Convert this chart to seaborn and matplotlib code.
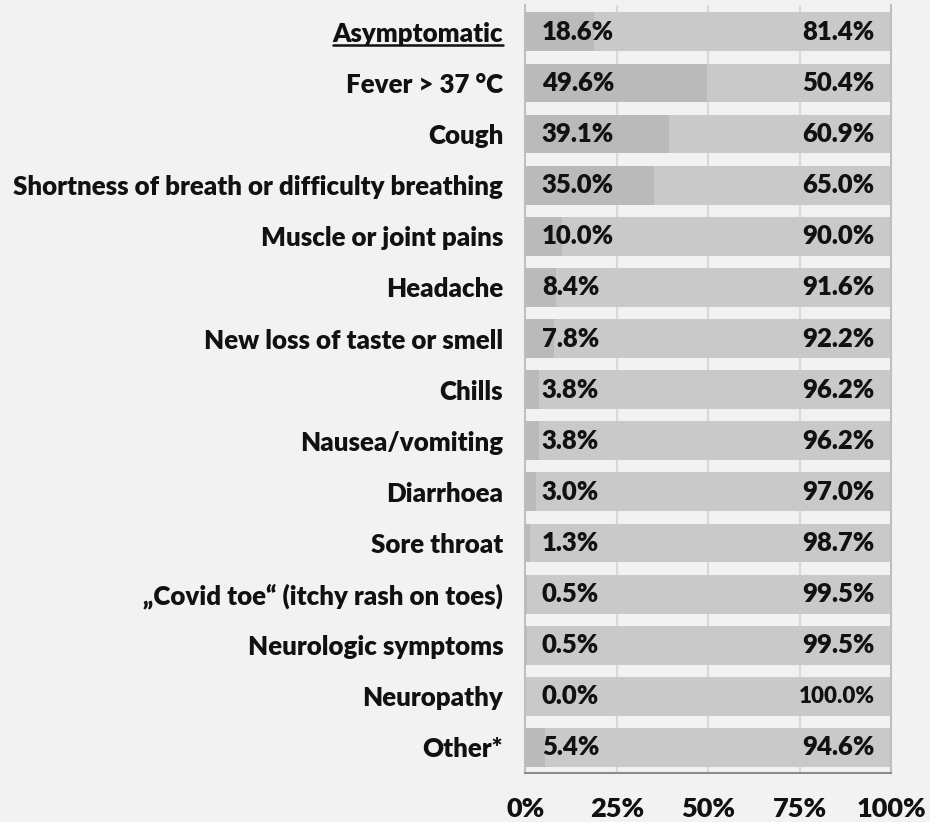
import matplotlib
matplotlib.use("Agg")
import matplotlib.pyplot as plt
import seaborn as sns
import pandas as pd

symptoms = [
    "Asymptomatic", "Fever > 37 °C", "Cough",
    "Shortness of breath or difficulty breathing", "Muscle or joint pains",
    "Headache", "New loss of taste or smell", "Chills", "Nausea/vomiting",
    "Diarrhoea", "Sore throat", "\u201eCovid toe\u201c (itchy rash on toes)",
    "Neurologic symptoms", "Neuropathy", "Other*",
]
yes_pct = [18.6, 49.6, 39.1, 35.0, 10.0, 8.4, 7.8, 3.8, 3.8, 3.0, 1.3, 0.5, 0.5, 0.0, 5.4]
no_pct = [81.4, 50.4, 60.9, 65.0, 90.0, 91.6, 92.2, 96.2, 96.2, 97.0, 98.7, 99.5, 99.5, 100.0, 94.6]
x_ticks = [0, 25, 50, 75, 100]
x_tick_labels = ["0%", "25%", "50%", "75%", "100%"]

df = pd.DataFrame({"symptom": symptoms, "yes": yes_pct, "no": no_pct})
df["total"] = df["yes"] + df["no"]

sns.set_theme(style="white")
plt.rcParams["font.family"] = ["Lato", "DejaVu Sans"]
plt.rcParams["font.weight"] = "heavy"

BG = "#f2f2f2"
INK = "#111111"
W = "heavy"
fig = plt.figure(figsize=(9.3, 8.22), dpi=100, facecolor=BG)
ax = fig.add_axes([0.565, 0.0596, 0.3935, 0.934])
ax.set_facecolor(BG)

# light vertical grid lines behind the bars
for xv in x_ticks[1:-1]:
    ax.axvline(xv, color="#d9d9d9", lw=1.5, zorder=0)

# full-width bar (yes + no) with the "yes" share drawn on top of it
sns.barplot(data=df, y="symptom", x="total", orient="h", color="#c9c9c9",
            saturation=1, width=0.76, ax=ax, zorder=2, linewidth=0)
sns.barplot(data=df, y="symptom", x="yes", orient="h", color="#bababa",
            saturation=1, width=0.76, ax=ax, zorder=3, linewidth=0)

ax.set_xlim(0, 100)
ax.set_ylim(len(symptoms) - 0.5, -0.52)
ax.set_xlabel("")
ax.set_ylabel("")

for i, (y, n) in enumerate(zip(yes_pct, no_pct)):
    ax.text(4.5, i, f"{y:.1f}%", ha="left", va="center", fontsize=18.5,
            fontweight=W, color=INK, zorder=5)
    ax.text(95.4, i, f"{n:.1f}%", ha="right", va="center",
            fontsize=16 if n >= 100 else 18.5, fontweight=W,
            color=INK, zorder=5)

ax.set_yticks(range(len(symptoms)))
ax.set_yticklabels(symptoms, fontsize=18.6, fontweight=W, color=INK)
ax.tick_params(axis="y", length=0, pad=16)

ax.set_xticks(x_ticks)
ax.set_xticklabels(x_tick_labels, fontsize=19.5, fontweight=W, color=INK)
ax.tick_params(axis="x", direction="out", length=6.5, width=1.5,
               color="#8c8c8c", pad=11)

ax.spines["top"].set_visible(False)
ax.spines["bottom"].set_color("#8c8c8c")
ax.spines["bottom"].set_linewidth(1.5)
for side in ["left", "right"]:
    ax.spines[side].set_color("#bfbfbf")
    ax.spines[side].set_linewidth(1.5)

# underline the first category label
fig.canvas.draw()
lbl = ax.get_yticklabels()[0]
bb = lbl.get_window_extent().transformed(fig.transFigure.inverted())
fig.add_artist(plt.Line2D([bb.x0, bb.x1], [bb.y0 + 0.001, bb.y0 + 0.001],
                          transform=fig.transFigure, color=INK, lw=1.8))

fig.savefig("out.png", dpi=100, facecolor=BG)
